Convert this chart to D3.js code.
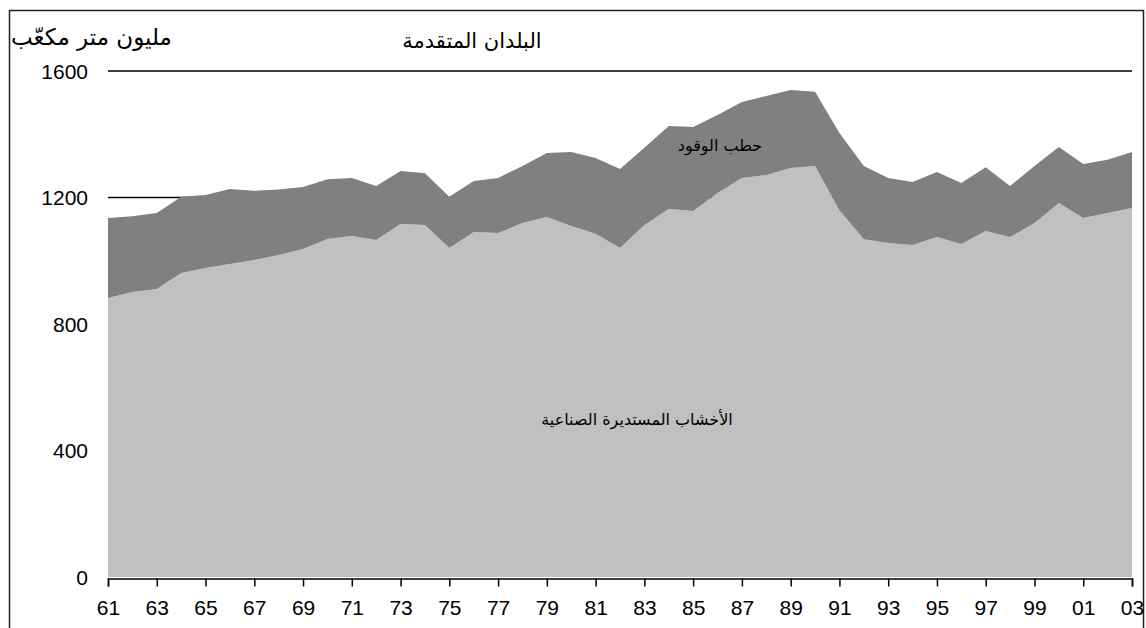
<!DOCTYPE html>
<html>
<head>
<meta charset="utf-8">
<script src="https://cdn.jsdelivr.net/npm/d3@7"></script>
<style>
  html, body { margin: 0; padding: 0; background: #fff; }
  svg { display: block; }
</style>
</head>
<body>
<svg id="chart" width="1146" height="628"></svg>
<script>
// Roundwood removals in developed countries, million cubic metres
const years = d3.range(1961, 2004);
const industrialRoundwood = [
  882, 901, 911, 961, 977, 990, 1002, 1018, 1037, 1069,
  1078, 1066, 1116, 1113, 1040, 1091, 1088, 1119, 1138, 1110,
  1085, 1040, 1113, 1164, 1157, 1214, 1262, 1271, 1293, 1300,
  1160, 1068, 1056, 1050, 1075, 1053, 1094, 1075, 1119, 1183,
  1135, 1151, 1167
];
const fuelwood = [
  253, 240, 240, 241, 231, 237, 219, 207, 196, 189,
  184, 170, 168, 164, 162, 161, 174, 181, 203, 234,
  240, 250, 244, 262, 266, 247, 240, 250, 247, 234,
  244, 232, 206, 199, 206, 193, 202, 161, 181, 177,
  171, 168, 177
];
const yTicks = [0, 400, 800, 1200, 1600];
const xTickYears = d3.range(1961, 2004, 2);

const seriesKeys = ["industrial", "fuel"];
const seriesColors = { industrial: "#c0c0c0", fuel: "#808080" };

const table = years.map((y, i) => ({
  year: y,
  industrial: industrialRoundwood[i],
  fuel: fuelwood[i]
}));

const svg = d3.select("#chart");
const plot = { left: 108, right: 1132, top: 71, bottom: 577 };

const x = d3.scaleLinear().domain([1961, 2003]).range([plot.left, plot.right]);
const y = d3.scaleLinear().domain([0, 1600]).range([plot.bottom, plot.top]);

const latin = "Liberation Sans, Arial, sans-serif";
const arabic = "DejaVu Sans, sans-serif";

// outer frame
svg.append("rect")
  .attr("x", 9.5).attr("y", 10.5)
  .attr("width", 1134).attr("height", 640)
  .attr("fill", "none").attr("stroke", "#222").attr("stroke-width", 1.5);

// horizontal grid lines (drawn beneath the areas)
svg.append("g")
  .selectAll("line")
  .data(yTicks.filter(d => d > 0))
  .join("line")
  .attr("x1", plot.left).attr("x2", plot.right)
  .attr("y1", d => y(d)).attr("y2", d => y(d))
  .attr("stroke", "#000").attr("stroke-width", 1.5);

// stacked areas
const stacked = d3.stack().keys(seriesKeys)(table);
const area = d3.area()
  .x(d => x(d.data.year))
  .y0(d => y(d[0]))
  .y1(d => y(d[1]));

svg.append("g")
  .selectAll("path")
  .data(stacked)
  .join("path")
  .attr("d", area)
  .attr("fill", d => seriesColors[d.key]);

// y axis labels
svg.append("g")
  .selectAll("text")
  .data(yTicks)
  .join("text")
  .attr("x", 88)
  .attr("y", d => y(d))
  .attr("dy", "0.36em")
  .attr("text-anchor", "end")
  .attr("font-family", latin)
  .attr("font-size", 21)
  .text(d => d);

// x axis
const xAxis = d3.axisBottom(x)
  .tickValues(xTickYears)
  .tickSize(8)
  .tickPadding(14)
  .tickFormat(d => String(d % 100).padStart(2, "0"));

const gx = svg.append("g")
  .attr("transform", `translate(0,${plot.bottom + 1.5})`)
  .call(xAxis);
gx.select(".domain").attr("stroke", "#000").attr("stroke-width", 1.5);
gx.selectAll(".tick line").attr("stroke", "#000").attr("stroke-width", 1.5);
gx.selectAll(".tick text")
  .attr("font-family", latin)
  .attr("font-size", 21)
  .attr("fill", "#000");

// unit label
svg.append("text")
  .attr("x", 11).attr("y", 45)
  .attr("text-anchor", "start")
  .attr("font-family", arabic)
  .attr("font-size", 23)
  .text("مليون متر مكعّب");

// panel title
svg.append("text")
  .attr("x", 472).attr("y", 48)
  .attr("text-anchor", "middle")
  .attr("font-family", arabic)
  .attr("font-size", 21)
  .text("البلدان المتقدمة");

// series labels
svg.append("text")
  .attr("x", 720).attr("y", 151)
  .attr("text-anchor", "middle")
  .attr("font-family", arabic)
  .attr("font-size", 16)
  .text("حطب الوقود");

svg.append("text")
  .attr("x", 637).attr("y", 425)
  .attr("text-anchor", "middle")
  .attr("font-family", arabic)
  .attr("font-size", 16)
  .text("الأخشاب المستديرة الصناعية");
</script>
</body>
</html>
